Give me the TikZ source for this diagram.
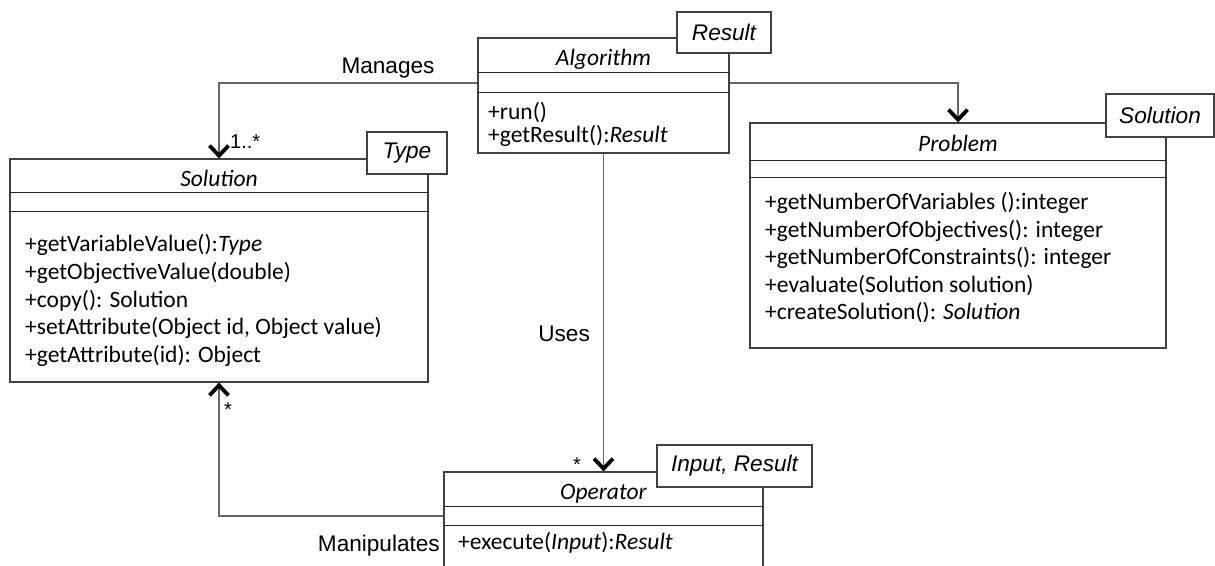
\documentclass[tikz,border=0pt]{standalone}
\usepackage{fontspec}
\setmainfont{Carlito}
\newfontfamily\labelfont{Liberation Sans}
\usetikzlibrary{arrows.meta}
\tikzset{
  classbox/.style={draw=black!75, line width=1.2pt, fill=white, rectangle, inner sep=0pt},
  tagbox/.style={draw=black!75, line width=1.2pt, fill=white, rectangle, inner sep=0pt,
    font=\labelfont\itshape\fontsize{22.6}{26}\selectfont},
  sepline/.style={draw=black!85, line width=1.2pt},
  conn/.style={draw=black!60, line width=1.3pt,
    -{Straight Barb[color=black,length=10pt,width=19pt,line width=3.8pt]}},
  title/.style={font=\itshape\fontsize{23.5}{28}\selectfont, anchor=base, inner sep=0pt},
  member/.style={font=\fontsize{23.5}{28}\selectfont, anchor=west, inner sep=0pt},
  lbl/.style={font=\labelfont\fontsize{22.6}{26}\selectfont, inner sep=0pt},
  mult/.style={font=\labelfont\fontsize{20}{24}\selectfont, inner sep=0pt, anchor=base west},
}
\begin{document}
\begin{tikzpicture}[x=1pt,y=-1pt]
\useasboundingbox (0,0) rectangle (1215,565);
\clip (0,0) rectangle (1215,565);
\fill[white] (0,0) rectangle (1215,565);

% class boxes
\node[classbox, minimum width=251pt, minimum height=115pt] (alg) at (603.5,95.5) {};
\node[classbox, minimum width=418pt, minimum height=223pt] (sol) at (219,270.5) {};
\node[classbox, minimum width=416pt, minimum height=225pt] (prob) at (958,235.5) {};
\node[classbox, minimum width=319pt, minimum height=140pt] (op) at (603.5,542) {};

% compartment separators
\draw[sepline] ([yshift=-35pt]alg.north west) -- ([yshift=-35pt]alg.north east);
\draw[sepline] ([yshift=-55pt]alg.north west) -- ([yshift=-55pt]alg.north east);
\draw[sepline] ([yshift=-34pt]sol.north west) -- ([yshift=-34pt]sol.north east);
\draw[sepline] ([yshift=-53pt]sol.north west) -- ([yshift=-53pt]sol.north east);
\draw[sepline] ([yshift=-38pt]prob.north west) -- ([yshift=-38pt]prob.north east);
\draw[sepline] ([yshift=-55pt]prob.north west) -- ([yshift=-55pt]prob.north east);
\draw[sepline] ([yshift=-35pt]op.north west) -- ([yshift=-35pt]op.north east);
\draw[sepline] ([yshift=-54pt]op.north west) -- ([yshift=-54pt]op.north east);

% class names
\node[title] (algname) at (603.5,65) {Algorithm};
\node[title] (solname) at (219,186) {Solution};
\node[title] (probname) at (958,151) {Problem};
\node[title] (opname) at (603.5,499) {Operator};

% operations
\node[member] (a1) at (488,113) {+run()};
\node[member] (a2) at (488,136) {+getResult():\textit{Result}};

\node[member] (s1) at (25,245) {+getVariableValue():\textit{Type}};
\node[member] (s2) at (25,272.7) {+getObjectiveValue(double)};
\node[member] (s3) at (25,300.4) {+copy(): Solution};
\node[member] (s4) at (25,328.1) {+setAttribute(Object id, Object value)};
\node[member] (s5) at (25,355.8) {+getAttribute(id): Object};

\node[member] (p1) at (765,203) {+getNumberOfVariables ():integer};
\node[member] (p2) at (765,230.5) {+getNumberOfObjectives(): integer};
\node[member] (p3) at (765,258) {+getNumberOfConstraints(): integer};
\node[member] (p4) at (765,285.5) {+evaluate(Solution solution)};
\node[member] (p5) at (765,313) {+createSolution(): \textit{Solution}};

\node[member] (o1) at (458,543) {+execute(\textit{Input}):\textit{Result}};

% associations
\draw[conn] ([yshift=12.5pt]alg.west) -| (sol.north);
\draw[conn] ([yshift=12.5pt]alg.east) -| (prob.north);
\draw[conn] (alg.south) -- (op.north);
\draw[conn] ([yshift=26pt]op.west) -| (sol.south);

% template parameters
\node[tagbox, minimum width=94pt, minimum height=41pt] (algtag) at (724,32.5) {Result};
\node[tagbox, minimum width=80pt, minimum height=42pt] (soltag) at (407,153) {Type};
\node[tagbox, minimum width=108pt, minimum height=43pt] (probtag) at (1160,115.5) {Solution};
\node[tagbox, minimum width=155pt, minimum height=42pt] (optag) at (734.5,466) {Input, Result};

% association labels and multiplicities
\node[lbl, anchor=base] (manages) at (388,73) {Manages};
\node[lbl, anchor=base east] (uses) at (590,341) {Uses};
\node[lbl, anchor=base east] (manip) at (440,551) {Manipulates};
\node[mult] (m1) at (230,148) {1..*};
\node[mult] (m2) at (224,416) {*};
\node[mult] (m3) at (573,471) {*};
\end{tikzpicture}
\end{document}
